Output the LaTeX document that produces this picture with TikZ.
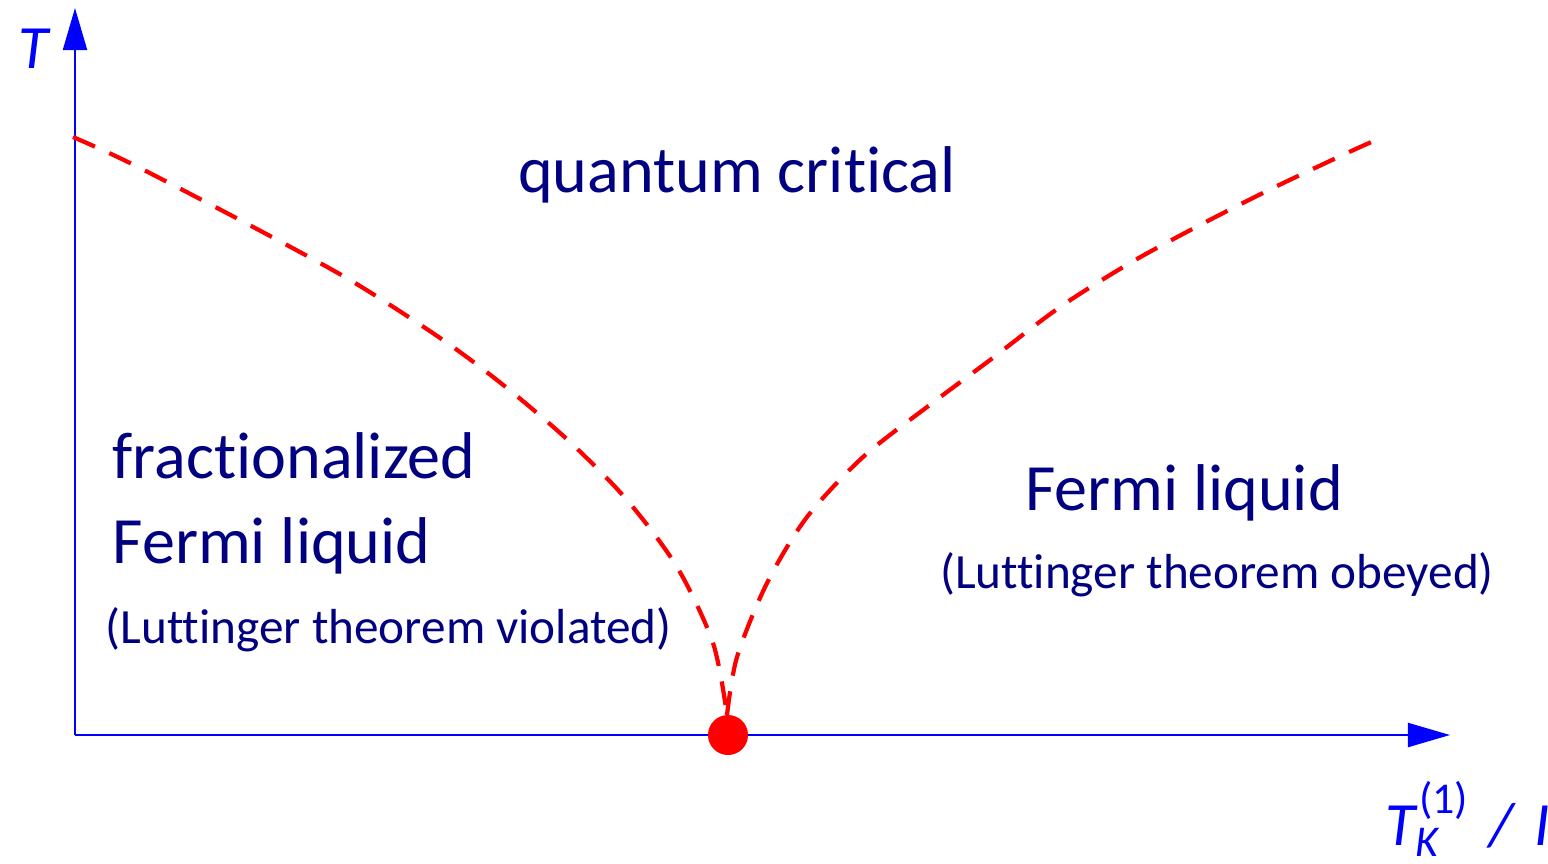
\documentclass[tikz,border=0pt]{standalone}
\usepackage{fontspec}
\setmainfont{Carlito}[Ligatures={NoCommon,NoRequired,NoContextual}]
\usetikzlibrary{arrows.meta}
\definecolor{axisblue}{RGB}{0,0,255}
\definecolor{labelnavy}{RGB}{0,0,128}
\definecolor{lineRed}{RGB}{255,0,0}
\newcommand{\kondosub}{\rlap{\raisebox{-3.4pt}{\fontsize{12.5}{14}\selectfont K}}}
\newcommand{\kondosup}{\raisebox{9pt}{\upshape\fontsize{12.5}{14}\selectfont\hspace{1pt}(1)}}
\begin{document}
\begin{tikzpicture}[x=0.01cm,y=-0.01cm,>={Triangle[length=0.42cm,width=0.24cm]}]
        \tikzset{axis/.style={draw=axisblue, fill=axisblue, line width=0.6pt},
                 axislabel/.style={text=axisblue, font=\fontsize{17.5}{20}\selectfont\itshape, inner sep=0pt},
                 phase/.style={text=labelnavy, font=\fontsize{18.8}{22}\selectfont, inner sep=0pt},
                 note/.style={text=labelnavy, font=\fontsize{14}{17}\selectfont, inner sep=0pt},
                 crossover/.style={draw=lineRed, line width=1.2pt, dash pattern=on 6.8pt off 4.5pt}}
        \useasboundingbox (0,0) rectangle (1548,863);
        \coordinate (O) at (75,735);
        \coordinate (ytip) at (75,8);
        \coordinate (xtip) at (1450,735);
        \draw[axis,->] (O) -- (ytip);
        \draw[axis,->] (O) -- (xtip);
        \node[axislabel, anchor=base] (tlab) at (33,68) {T};
        \node[axislabel, anchor=base west] (xlab) at (1385,845) {T\kondosub\kondosup\hspace{6pt}/\hspace{6pt}I};
        % crossover lines
        \node[circle, fill=lineRed, minimum size=0.4cm, inner sep=0pt] (qcp) at (728,735) {};
        \draw[crossover] plot[smooth, tension=0.5] coordinates {(73,137) (130,163) (240,220) (350,280) (443,340) (507,388) (570,442) (627,500) (677,567) (713,643) (727,715)};
        \draw[crossover] plot[smooth, tension=0.5] coordinates {(727,715) (737,657) (767,583) (807,517) (863,457) (927,407) (990,360) (1060,307) (1130,263) (1200,225) (1273,188) (1347,153) (1385,136)};
        % phases
        \node[phase, anchor=base] (qc) at (737,192) {quantum critical};
        \node[phase, anchor=base west] (frac) at (112,478) {fractionalized};
        \node[phase, anchor=base west] (ffl) at (112,563) {Fermi liquid};
        \node[note, anchor=base west] (viol) at (105,643) {(Luttinger theorem violated)};
        \node[phase, anchor=base] (fl) at (1184,510) {Fermi liquid};
        \node[note, anchor=base] (obey) at (1217,588) {(Luttinger theorem obeyed)};
    \end{tikzpicture}
\end{document}
